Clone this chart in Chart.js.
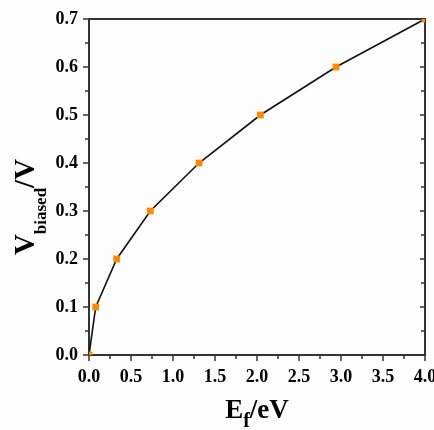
<!DOCTYPE html>
<html>
<head>
<meta charset="utf-8">
<script src="https://cdn.jsdelivr.net/npm/chart.js@4.4.1/dist/chart.umd.min.js"></script>
<style>
  html, body { margin: 0; padding: 0; background: #fdfdfd; }
  #wrap { width: 434px; height: 430px; }
</style>
</head>
<body>
<div id="wrap"><canvas id="myChart"></canvas></div>
<script>
// Fermi energy (eV) vs biased voltage (V)
const energies = [0, 0.08, 0.33, 0.73, 1.31, 2.04, 2.94, 4.0];
const voltages = [0, 0.1, 0.2, 0.3, 0.4, 0.5, 0.6, 0.7];

const xTicks = [0, 0.5, 1.0, 1.5, 2.0, 2.5, 3.0, 3.5, 4.0];
const yTicks = [0, 0.1, 0.2, 0.3, 0.4, 0.5, 0.6, 0.7];

const serif = "'Liberation Serif', 'Times New Roman', serif";
const axisColor = '#333';

// frame + tick marks (major and minor) drawn by hand
const framePlugin = {
    id: 'frame',
    beforeDatasetsDraw(chart) {
        const c = chart.ctx;
        const a = chart.chartArea;
        const xs = chart.scales.x;
        const ys = chart.scales.y;
        c.save();
        c.strokeStyle = axisColor;
        c.lineWidth = 2;
        c.strokeRect(a.left, a.top, a.right - a.left, a.bottom - a.top);

        c.lineWidth = 1.5;
        c.beginPath();
        // bottom axis, outward
        for (let i = 0; i < xTicks.length; i++) {
            const px = Math.round(xs.getPixelForValue(xTicks[i]));
            c.moveTo(px, a.bottom);
            c.lineTo(px, a.bottom + 6);
            if (i < xTicks.length - 1) {
                const pm = Math.round(xs.getPixelForValue((xTicks[i] + xTicks[i + 1]) / 2));
                c.moveTo(pm, a.bottom);
                c.lineTo(pm, a.bottom + 4);
            }
        }
        // left axis outward, right axis inward
        for (let i = 0; i < yTicks.length; i++) {
            const py = Math.round(ys.getPixelForValue(yTicks[i]));
            c.moveTo(a.left, py);
            c.lineTo(a.left - 6, py);
            c.moveTo(a.right, py);
            c.lineTo(a.right - 5, py);
            if (i < yTicks.length - 1) {
                const pm = Math.round(ys.getPixelForValue((yTicks[i] + yTicks[i + 1]) / 2));
                c.moveTo(a.left, pm);
                c.lineTo(a.left - 4, pm);
                c.moveTo(a.right, pm);
                c.lineTo(a.right - 4, pm);
            }
        }
        c.stroke();
        c.restore();
    },
    afterDraw(chart) {
        const c = chart.ctx;
        c.save();
        c.fillStyle = '#000';
        c.textBaseline = 'alphabetic';

        // x title: E_f/eV
        const big = 'bold 27px ' + serif;
        const sub = 'bold 20px ' + serif;
        c.font = big;
        const wE = c.measureText('E').width;
        const wRest = c.measureText('/eV').width;
        c.font = sub;
        const wf = c.measureText('f').width;
        let x = 257 - (wE + wf + wRest) / 2;
        const base = 418;
        c.font = big;
        c.fillText('E', x, base);
        x += wE;
        c.font = sub;
        c.fillText('f', x, base + 9);
        x += wf;
        c.font = big;
        c.fillText('/eV', x, base);

        // y title: V_biased/V, rotated
        const bigY = 'bold 29px ' + serif;
        const subY = 'bold 17px ' + serif;
        c.translate(34, 207);
        c.rotate(-Math.PI / 2);
        c.font = bigY;
        const wV = c.measureText('V').width;
        const wSl = c.measureText('/V').width;
        c.font = subY;
        const wb = c.measureText('biased').width;
        let u = -(wV + wb + wSl) / 2;
        c.font = bigY;
        c.fillText('V', u, 0);
        u += wV;
        c.font = subY;
        c.fillText('biased', u, 12);
        u += wb;
        c.font = bigY;
        c.fillText('/V', u, 0);
        c.restore();
    }
};

new Chart(document.getElementById('myChart'), {
    type: 'line',
    data: {
        datasets: [{
            data: energies.map((e, i) => ({ x: e, y: voltages[i] })),
            borderColor: '#111',
            borderWidth: 1.6,
            tension: 0,
            pointStyle: 'rect',
            pointRadius: 4.8,
            pointBorderWidth: 0,
            pointBackgroundColor: '#ff8a00',
            pointBorderColor: '#ff8a00',
            fill: false,
        }]
    },
    options: {
        responsive: true,
        maintainAspectRatio: false,
        animation: false,
        layout: {
            padding: { left: 39, right: 9, top: 19, bottom: 35 }
        },
        plugins: {
            legend: { display: false },
            tooltip: { enabled: false },
        },
        scales: {
            x: {
                type: 'linear',
                min: 0,
                max: 4,
                grid: { display: false, drawTicks: false },
                border: { display: false },
                ticks: {
                    stepSize: 0.5,
                    padding: 12,
                    color: '#000',
                    font: { family: serif, size: 18, weight: 'bold' },
                    callback: v => v.toFixed(1),
                },
                afterFit(scale) {
                    scale.height = 40;
                    scale.paddingLeft = 0;
                    scale.paddingRight = 0;
                },
            },
            y: {
                min: 0,
                max: 0.7,
                grid: { display: false, drawTicks: false },
                border: { display: false },
                ticks: {
                    stepSize: 0.1,
                    padding: 11,
                    color: '#000',
                    font: { family: serif, size: 18, weight: 'bold' },
                    callback: v => v.toFixed(1),
                },
                afterFit(scale) {
                    scale.width = 50;
                    scale.paddingTop = 0;
                    scale.paddingBottom = 0;
                },
            },
        },
    },
    plugins: [framePlugin],
});
</script>
</body>
</html>
